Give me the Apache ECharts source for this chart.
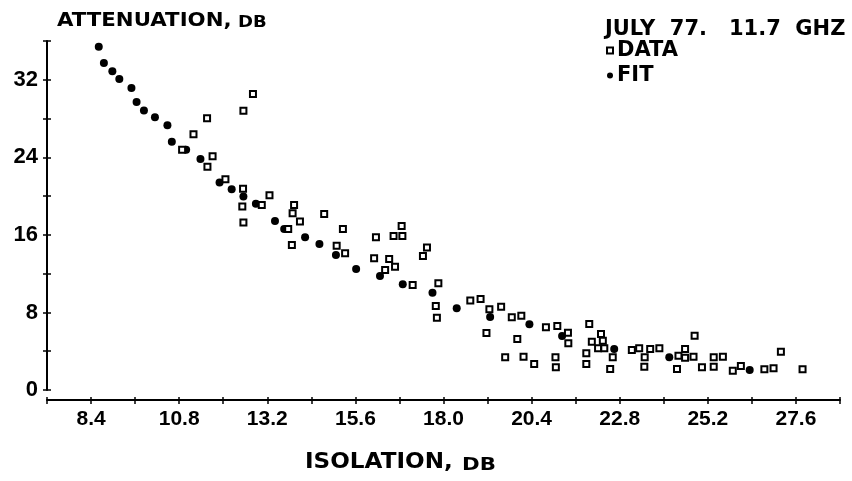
<!DOCTYPE html>
<html>
<head>
<meta charset="utf-8">
<title>Attenuation vs Isolation</title>
<script src="https://cdn.jsdelivr.net/npm/echarts@6/dist/echarts.min.js"></script>
<style>
  html, body { margin: 0; padding: 0; background: #fff; }
  #chart { width: 852px; height: 481px; }
</style>
</head>
<body>
<div id="chart"></div>
<script>
// Measured points: isolation (dB) vs attenuation (dB)
const dataIsolation = [
  10.88, 11.19, 11.56, 11.57, 11.71, 12.06, 12.52, 12.54, 12.55, 12.55,
  12.81, 13.05, 13.26, 13.77, 13.87, 13.89, 13.93, 14.09, 14.75, 15.09,
  15.26, 15.32, 16.11, 16.16, 16.41, 16.52, 16.64, 16.68, 16.86, 16.88,
  17.16, 17.44, 17.55, 17.79, 17.82, 17.86, 18.73, 19.01, 19.17, 19.25,
  19.57, 19.68, 19.86, 20.01, 20.12, 20.18, 20.47, 20.79, 21.05, 21.06,
  21.10, 21.39, 21.40, 21.89, 21.89, 21.97, 22.04, 22.21, 22.29, 22.34,
  22.38, 22.54, 22.61, 23.13, 23.33, 23.47, 23.48, 23.63, 23.88, 24.36,
  24.40, 24.58, 24.58, 24.81, 24.84, 25.04, 25.36, 25.36, 25.61, 25.88,
  26.10, 26.74, 26.99, 27.19, 27.78
];
const dataAttenuation = [
  24.77, 26.39, 28.04, 23.04, 24.12, 21.74, 18.92, 20.77, 17.27, 28.81,
  30.53, 19.09, 20.09, 16.62, 14.96, 18.24, 19.09, 17.37, 18.16, 14.89,
  16.62, 14.11, 13.59, 15.76, 12.38, 13.52, 15.89, 12.72, 16.92, 15.89,
  10.84, 13.83, 14.69, 8.67, 7.46, 11.01, 9.22, 9.39, 5.88, 8.33,
  8.60, 3.37, 7.50, 5.26, 7.67, 3.44, 2.68, 6.47, 3.37, 2.34,
  6.60, 5.91, 4.82, 3.79, 2.68, 6.81, 4.98, 4.30, 5.78, 5.09,
  4.30, 2.17, 3.37, 4.13, 4.30, 2.40, 3.37, 4.23, 4.30, 2.17,
  3.54, 4.23, 3.33, 3.44, 5.60, 2.34, 3.37, 2.40, 3.44, 1.99,
  2.48, 2.14, 2.24, 3.95, 2.14
];

// Fitted curve points
const fitIsolation = [
  8.61, 8.75, 8.98, 9.17, 9.50, 9.64, 9.84, 10.14, 10.48, 10.60,
  10.99, 11.38, 11.90, 12.23, 12.55, 12.89, 13.41, 13.66, 14.23, 14.62,
  15.07, 15.62, 16.27, 16.89, 17.70, 18.36, 19.27, 20.34, 21.23, 22.65,
  24.15, 26.34
];
const fitAttenuation = [
  35.40, 33.73, 32.88, 32.07, 31.15, 29.70, 28.84, 28.13, 27.31, 25.62,
  24.77, 23.84, 21.41, 20.72, 19.95, 19.20, 17.44, 16.62, 15.76, 15.07,
  13.93, 12.49, 11.76, 10.91, 10.04, 8.43, 7.53, 6.78, 5.57, 4.23,
  3.37, 2.06
];

// Labelled tick values
const xLabelValues = [8.4, 10.8, 13.2, 15.6, 18.0, 20.4, 22.8, 25.2, 27.6];
const yLabelValues = [0, 8, 16, 24, 32];

const pairs = (xs, ys) => xs.map((x, i) => [x, ys[i]]);

const INK = '#000';
const TICK_FONT = { fontFamily: 'Liberation Sans', fontWeight: 'bold', color: INK };
const HEAD_FONT = 'DejaVu Sans';

const xBase = {
  type: 'value', min: 7.2, max: 28.8, interval: 1.2,
  position: 'bottom', offset: 10,
  splitLine: { show: false }
};
const yBase = {
  type: 'value', min: 0, max: 36, interval: 4,
  position: 'left',
  splitLine: { show: false }
};

// Bold, slightly widened heading text
const heading = (text, x, y, size, stretch) => ({
  type: 'text', x: x, y: y, scaleX: stretch, scaleY: 1,
  style: { text: text, fontFamily: HEAD_FONT, fontWeight: 'bold', fontSize: size, fill: INK, verticalAlign: 'middle' }
});

const chart = echarts.init(document.getElementById('chart'), null, { renderer: 'canvas' });
chart.setOption({
  animation: false,
  backgroundColor: '#fff',
  grid: { left: 47, right: 12, top: 41, bottom: 91, containLabel: false, outerBoundsMode: 'none' },
  xAxis: [
    Object.assign({}, xBase, {
      axisLine: { onZero: false, lineStyle: { color: INK, width: 2 } },
      axisTick: { show: true, length: 4, lineStyle: { color: INK, width: 1.5 } },
      axisLabel: Object.assign({}, TICK_FONT, {
        fontSize: 21, margin: 9,
        showMinLabel: true, showMaxLabel: true,
        formatter: v => {
          const hit = xLabelValues.find(t => Math.abs(t - v) < 1e-6);
          return hit === undefined ? '' : hit.toFixed(1);
        }
      })
    }),
    Object.assign({}, xBase, {
      axisLine: { show: false, onZero: false },
      axisTick: { show: true, inside: true, length: 3, lineStyle: { color: INK, width: 1.5 } },
      axisLabel: { show: false }
    })
  ],
  yAxis: [
    Object.assign({}, yBase, {
      axisLine: { show: true, onZero: false, lineStyle: { color: INK, width: 2 } },
      axisTick: { show: true, length: 4, lineStyle: { color: INK, width: 1.5 } },
      axisLabel: Object.assign({}, TICK_FONT, {
        fontSize: 22, margin: 9,
        showMinLabel: true, showMaxLabel: true,
        formatter: v => (yLabelValues.indexOf(Math.round(v)) >= 0 && Math.abs(v - Math.round(v)) < 1e-6) ? String(Math.round(v)) : ''
      })
    }),
    Object.assign({}, yBase, {
      axisLine: { show: false, onZero: false },
      axisTick: { show: true, inside: true, length: 4, lineStyle: { color: INK, width: 1.5 } },
      axisLabel: { show: false }
    })
  ],
  legend: {
    data: ['DATA', 'FIT'],
    orient: 'vertical',
    left: 606, top: 40,
    padding: 0,
    itemWidth: 6, itemHeight: 6, itemGap: 4,
    selectedMode: false,
    textStyle: { fontFamily: HEAD_FONT, fontWeight: 'bold', fontSize: 21, color: INK, padding: [0, 0, 0, -1] }
  },
  graphic: [
    heading('ATTENUATION,', 57, 21.5, 19, 1.12),
    heading('DB', 238, 23.5, 15, 1.2),
    heading('ISOLATION,', 305, 463, 21, 1.1),
    heading('DB', 462, 465.5, 17, 1.25),
    heading('JULY  77.   11.7  GHZ', 605, 29.5, 21, 1)
  ],
  series: [
    {
      name: 'FIT', type: 'scatter', xAxisIndex: 0, yAxisIndex: 0,
      symbol: 'circle', symbolSize: 8,
      itemStyle: { color: INK, opacity: 1 },
      emphasis: { disabled: true },
      data: pairs(fitIsolation, fitAttenuation)
    },
    {
      name: 'DATA', type: 'scatter', xAxisIndex: 0, yAxisIndex: 0,
      symbol: 'rect', symbolSize: 6,
      itemStyle: { color: '#fff', borderColor: INK, borderWidth: 2, opacity: 1 },
      emphasis: { disabled: true },
      data: pairs(dataIsolation, dataAttenuation)
    }
  ]
});
</script>
</body>
</html>
